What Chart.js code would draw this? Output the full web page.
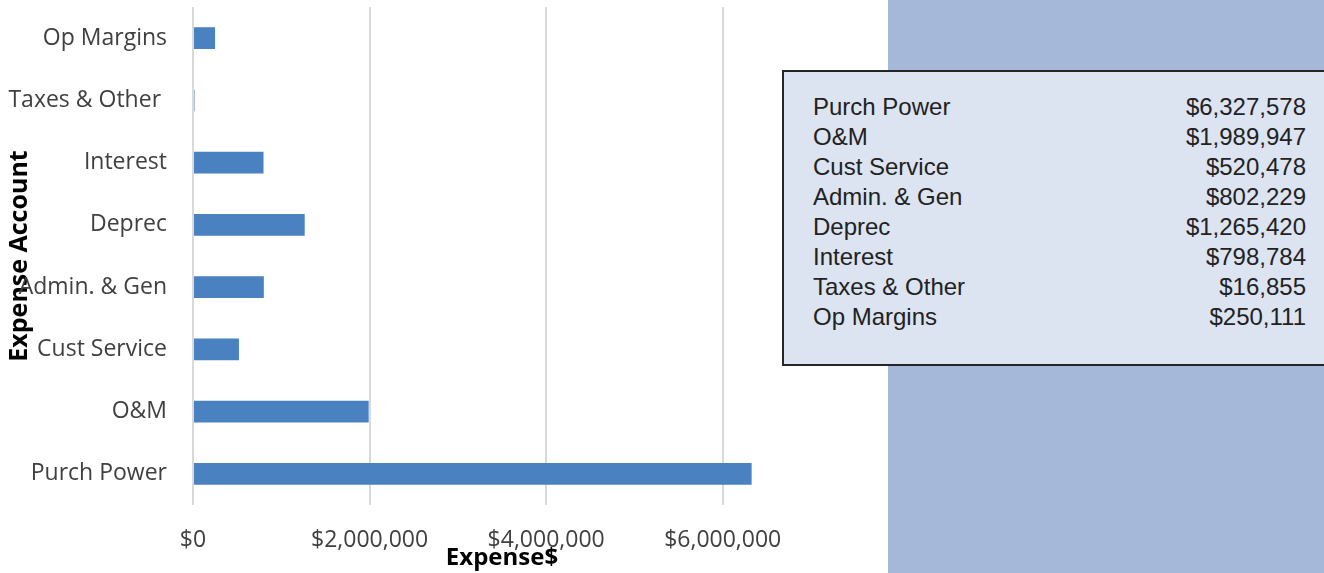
<!DOCTYPE html>
<html>
<head>
<meta charset="utf-8">
<script src="https://cdn.jsdelivr.net/npm/chart.js@4.4.1/dist/chart.umd.min.js"></script>
<style>
  body { margin: 0; background: #fff; overflow: hidden; }
  #wrap { position: relative; width: 1324px; height: 573px; }
  #panel { position: absolute; left: 888px; top: 0; width: 436px; height: 573px; background: #a6b8da; }
  #box { position: absolute; left: 782px; top: 70px; width: 560px; height: 292px; background: #dce3f1; border: 2px solid #262626; }
  #tbl { position: absolute; left: 813px; top: 92px; width: 493px; border-collapse: collapse;
         font-family: "Liberation Sans", Arial, sans-serif; font-size: 24px; color: #222; }
  #tbl td { padding: 0; line-height: 30px; height: 30px; white-space: nowrap; }
  #tbl td.v { text-align: right; }
</style>
</head>
<body>
<div id="wrap">
  <canvas id="c" width="1324" height="573"></canvas>
  <div id="panel"></div>
  <div id="box"></div>
  <table id="tbl"></table>
</div>
<script>
const categories = ['Purch Power', 'O&M', 'Cust Service', 'Admin. & Gen', 'Deprec', 'Interest', 'Taxes & Other ', 'Op Margins'];
const expenses   = [6327578, 1989947, 520478, 802229, 1265420, 798784, 16855, 250111];
const xTicks     = [0, 2000000, 4000000, 6000000];

const fmt = v => '$' + v.toLocaleString('en-US');

// side table
document.getElementById('tbl').innerHTML = categories.map((c, i) =>
  `<tr><td>${c.trim()}</td><td class="v">${fmt(expenses[i])}</td></tr>`).join('');

new Chart(document.getElementById('c'), {
  type: 'bar',
  data: {
    labels: categories,
    datasets: [{
      data: expenses,
      backgroundColor: '#4a81c0',
      barPercentage: 0.35,
      categoryPercentage: 1
    }]
  },
  options: {
    indexAxis: 'y',
    responsive: false,
    animation: false,
    layout: { padding: { left: 0, right: 513, top: 7, bottom: 0 } },
    plugins: { legend: { display: false }, tooltip: { enabled: false } },
    scales: {
      x: {
        min: 0, max: 7000000,
        afterBuildTicks: axis => { axis.ticks = xTicks.map(v => ({ value: v })); },
        afterFit: s => { s.height = 68; },
        grid: { color: '#d9d9d9', lineWidth: 2, drawTicks: false },
        border: { display: false },
        ticks: {
          padding: 22, maxRotation: 0,
          color: '#404040', font: { family: 'Open Sans', size: 23 },
          callback: v => fmt(v)
        },
        title: {
          display: true, text: 'Expense$', color: '#000',
          font: { family: 'Open Sans', size: 24, weight: 'bold' },
          padding: { top: 0, bottom: 0 }
        }
      },
      y: {
        reverse: true,
        afterFit: s => { s.width = 193; s.paddingTop = 0; s.paddingBottom = 0; },
        grid: { display: false, drawTicks: false },
        border: { display: false },
        ticks: { padding: 26, color: '#404040', font: { family: 'Open Sans', size: 23 } },
        title: {
          display: true, text: 'Expense Account', color: '#000',
          font: { family: 'Open Sans', size: 25, weight: 'bold' },
          padding: { top: 5, bottom: 0 }
        }
      }
    }
  }
});
</script>
</body>
</html>
